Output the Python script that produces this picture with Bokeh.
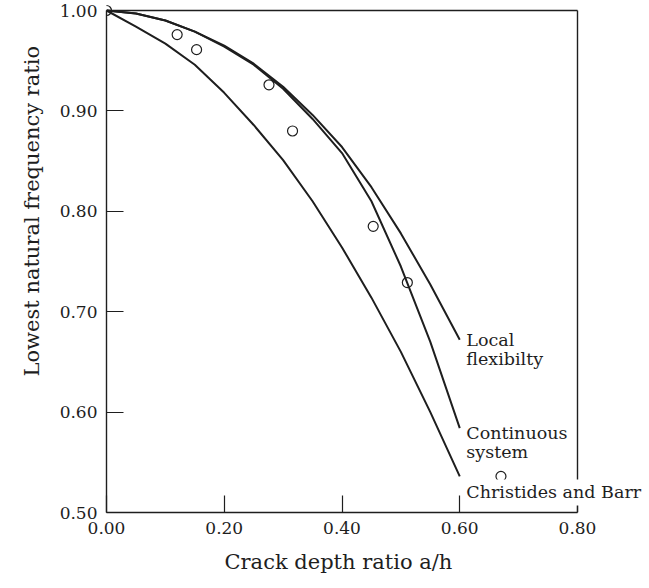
from bokeh.plotting import figure
from bokeh.models import Range1d, Label, FixedTicker, LinearAxis, Title
from bokeh.embed import file_html
from bokeh.resources import INLINE

# ---- data ----
crack_depth = [0.00, 0.05, 0.10, 0.15, 0.20, 0.25, 0.30, 0.35, 0.40, 0.45, 0.50, 0.55, 0.60]
continuous_system = [1.000, 0.997, 0.990, 0.979, 0.964, 0.946, 0.922, 0.892, 0.858, 0.810, 0.745, 0.670, 0.584]
local_flexibility = [1.000, 0.997, 0.990, 0.979, 0.965, 0.947, 0.924, 0.896, 0.864, 0.824, 0.778, 0.727, 0.672]
christides_barr = [1.000, 0.984, 0.967, 0.946, 0.918, 0.886, 0.851, 0.810, 0.764, 0.714, 0.660, 0.600, 0.536]

exp_depth = [0.000, 0.120, 0.153, 0.276, 0.316, 0.453, 0.511, 0.670]
exp_freq = [1.000, 0.976, 0.961, 0.926, 0.880, 0.785, 0.729, 0.536]

x_ticks = [0.0, 0.2, 0.4, 0.6, 0.8]
y_ticks = [0.5, 0.6, 0.7, 0.8, 0.9, 1.0]
x_tick_labels = {0.0: "0.00", 0.2: "0.20", 0.4: "0.40", 0.6: "0.60", 0.8: "0.80"}
y_tick_labels = {0.5: "0.50", 0.6: "0.60", 0.7: "0.70", 0.8: "0.80", 0.9: "0.90", 1.0: "1.00"}

X_MIN, X_MAX, Y_MIN, Y_MAX = 0.0, 0.8, 0.5, 1.0
FONT = "DejaVu Serif"
FS = "17px"
FS_LAB = "17.5px"
FS_AX = "21px"
INK = "#1e1e1e"

# layout in pixels
W, H = 649, 588
AX_LEFT, AX_RIGHT = 106, 577      # pixel of x = 0 and x = 0.8
AX_TOP, AX_BOTTOM = 10, 512       # pixel of y = 1.0 and y = 0.5
TOP_PAD = 6                       # room above y = 1.0 for the corner marker
px_x = (AX_RIGHT - AX_LEFT) / (X_MAX - X_MIN)
px_y = (AX_BOTTOM - AX_TOP) / (Y_MAX - Y_MIN)
frame_top = AX_TOP - TOP_PAD
x_end = X_MIN + (W - AX_LEFT) / px_x   # frame runs past 0.8 so curve labels fit
y_end = Y_MAX + TOP_PAD / px_y

p = figure(width=W, height=H, output_backend="svg", toolbar_location=None,
           x_range=Range1d(X_MIN, x_end), y_range=Range1d(Y_MIN, y_end),
           min_border_left=AX_LEFT, min_border_right=0, min_border_top=frame_top,
           min_border_bottom=H - AX_BOTTOM)
p.background_fill_color = "white"
p.border_fill_color = "white"
p.grid.visible = False
p.outline_line_color = None

for ax in (p.xaxis[0], p.yaxis[0]):
    ax.axis_line_color = INK
    ax.axis_line_width = 1.4
    ax.major_tick_line_color = INK
    ax.major_tick_line_width = 1.2
    ax.major_tick_in = 17
    ax.major_tick_out = 0
    ax.minor_tick_line_color = None
    ax.major_label_text_font = FONT
    ax.major_label_text_font_size = FS
    ax.major_label_text_color = INK

p.xaxis.bounds = (X_MIN, X_MAX)
p.yaxis.bounds = (Y_MIN, Y_MAX)
p.xaxis.ticker = FixedTicker(ticks=x_ticks)
p.yaxis.ticker = FixedTicker(ticks=y_ticks)
p.xaxis.major_label_overrides = x_tick_labels
p.yaxis.major_label_overrides = y_tick_labels
p.xaxis.major_label_standoff = 9
p.yaxis.major_label_standoff = 9

title_style = dict(text_font=FONT, text_font_size=FS_AX, text_font_style="normal",
                   text_color=INK, align="left")
# x-axis title, placed under the 0 .. 0.8 span
p.add_layout(Title(text="Crack depth ratio a/h", offset=224 - AX_LEFT, standoff=23,
                   **title_style), "below")
# y-axis title, placed as in the reference (above the frame centre)
p.add_layout(Title(text="Lowest natural frequency ratio", offset=AX_BOTTOM - 376,
                   standoff=25, **title_style), "left")

# top and right edges of the box
edge_style = dict(ticker=FixedTicker(ticks=[]), axis_line_color=INK, axis_line_width=1.4,
                  major_tick_line_color=None, minor_tick_line_color=None,
                  major_label_text_font_size="0px")
p.add_layout(LinearAxis(bounds=(X_MIN, X_MAX), fixed_location=Y_MAX, **edge_style), "above")
p.add_layout(LinearAxis(bounds=(Y_MIN, Y_MAX), fixed_location=X_MAX, **edge_style), "right")

for ys in (local_flexibility, continuous_system, christides_barr):
    p.line(crack_depth, ys, line_color=INK, line_width=2)

p.scatter(exp_depth, exp_freq, marker="circle", size=10, fill_alpha=0,
          line_color=INK, line_width=1.2)

labels = [("Local", 0.672), ("flexibilty", 0.653), ("Continuous", 0.579),
          ("system", 0.560), ("Christides and Barr", 0.520)]
for txt, yy in labels:
    p.add_layout(Label(x=0.606, y=yy, text=txt, text_font=FONT, text_font_size=FS_LAB,
                       text_color=INK, text_baseline="middle", text_align="left",
                       background_fill_color="white" if txt.startswith("Christ") else None,
                       padding=3))

open("out.html", "w").write(file_html(p, INLINE))
